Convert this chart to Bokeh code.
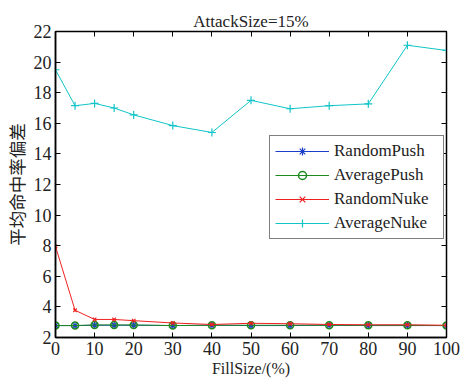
from bokeh.plotting import figure
from bokeh.models import LinearAxis, FixedTicker, Range1d, Legend, LegendItem
from bokeh.embed import file_html
from bokeh.resources import INLINE

x = [0, 5, 10, 15, 20, 30, 40, 50, 60, 70, 80, 90, 100]
random_push = [2.78, 2.78, 2.8, 2.8, 2.8, 2.78, 2.8, 2.78, 2.78, 2.8, 2.78, 2.78, 2.78]
average_push = [2.78, 2.78, 2.82, 2.82, 2.82, 2.78, 2.8, 2.8, 2.8, 2.8, 2.8, 2.8, 2.78]
random_nuke = [7.95, 3.78, 3.18, 3.18, 3.1, 2.95, 2.85, 2.93, 2.9, 2.85, 2.83, 2.83, 2.8]
average_nuke = [19.5, 17.15, 17.3, 17.0, 16.55, 15.85, 15.4, 17.5, 16.95, 17.15, 17.27, 21.1, 20.76]

x_ticks = [0, 10, 20, 30, 40, 50, 60, 70, 80, 90, 100]
y_ticks = [2, 4, 6, 8, 10, 12, 14, 16, 18, 20, 22]

SERIF = "Liberation Serif"

p = figure(width=461, height=381, output_backend="svg", toolbar_location=None,
           x_range=Range1d(0, 100), y_range=Range1d(2, 22),
           min_border_left=54, min_border_right=15, min_border_top=31, min_border_bottom=44)
p.title.text = "AttackSize=15%"
p.title.text_font = SERIF
p.title.text_font_size = "17px"
p.title.text_font_style = "normal"
p.title.align = "center"
p.title.text_color = "#222222"
p.title.standoff = 2
p.grid.visible = False
p.outline_line_color = "black"
p.outline_line_width = 1.5
p.background_fill_color = "white"
p.border_fill_color = "white"

for ax in p.xaxis:
    ax.ticker = FixedTicker(ticks=x_ticks)
    ax.axis_label = "FillSize/(%)"
    ax.axis_label_text_font = SERIF
    ax.axis_label_text_font_size = "16px"
for ax in p.yaxis:
    ax.ticker = FixedTicker(ticks=y_ticks)
    ax.axis_label = "平均命中率偏差"
    ax.axis_label_text_font = "Noto Sans CJK SC"
    ax.axis_label_text_font_size = "17.5px"

for ax in list(p.xaxis) + list(p.yaxis):
    ax.major_tick_in = 5
    ax.major_tick_out = 0
    ax.minor_tick_line_color = None
    ax.axis_line_width = 1.5
    ax.major_label_text_font = SERIF
    ax.major_label_text_font_size = "18px"
    ax.major_label_text_color = "#222222"
    ax.axis_label_text_font_style = "normal"
    ax.axis_label_text_color = "#222222"
    ax.axis_label_standoff = 2
    ax.major_label_standoff = 4

top = LinearAxis(ticker=FixedTicker(ticks=[], minor_ticks=x_ticks),
                 minor_tick_in=5, minor_tick_out=0, major_tick_line_color=None)
right = LinearAxis(ticker=FixedTicker(ticks=[], minor_ticks=y_ticks),
                   minor_tick_in=5, minor_tick_out=0, major_tick_line_color=None)
p.add_layout(top, "above")
p.add_layout(right, "right")

c_rp = "#1a3fc8"
c_ap = "#1e8a1e"
c_rn = "#f02020"
c_an = "#10c4c8"

l1 = p.line(x, random_push, line_color=c_rp, line_width=1)
m1 = p.scatter(x, random_push, marker="asterisk", size=7, line_color=c_rp, line_width=1.2)
l2 = p.line(x, average_push, line_color=c_ap, line_width=1)
m2 = p.scatter(x, average_push, marker="circle", size=7, line_color=c_ap, fill_color=None, line_width=1.5)
l3 = p.line(x, random_nuke, line_color=c_rn, line_width=1)
m3 = p.scatter(x, random_nuke, marker="x", size=5, line_color=c_rn, line_width=1.2)
l4 = p.line(x, average_nuke, line_color=c_an, line_width=1)
m4 = p.scatter(x, average_nuke, marker="cross", size=8, line_color=c_an, line_width=1.2)

legend = Legend(items=[
    LegendItem(label="RandomPush", renderers=[l1, m1]),
    LegendItem(label="AveragePush", renderers=[l2, m2]),
    LegendItem(label="RandomNuke", renderers=[l3, m3]),
    LegendItem(label="AverageNuke", renderers=[l4, m4]),
], location=(214, 98))
legend.label_text_font = SERIF
legend.label_text_font_size = "17px"
legend.label_text_color = "#222222"
legend.glyph_width = 54
legend.glyph_height = 20
legend.label_height = 20
legend.label_width = 104
legend.label_standoff = 5
legend.spacing = 4
legend.padding = 5
legend.margin = 0
legend.border_line_color = "black"
legend.border_line_width = 1
legend.background_fill_alpha = 1
p.add_layout(legend, "center")

open("out.html", "w").write(file_html(p, INLINE))
